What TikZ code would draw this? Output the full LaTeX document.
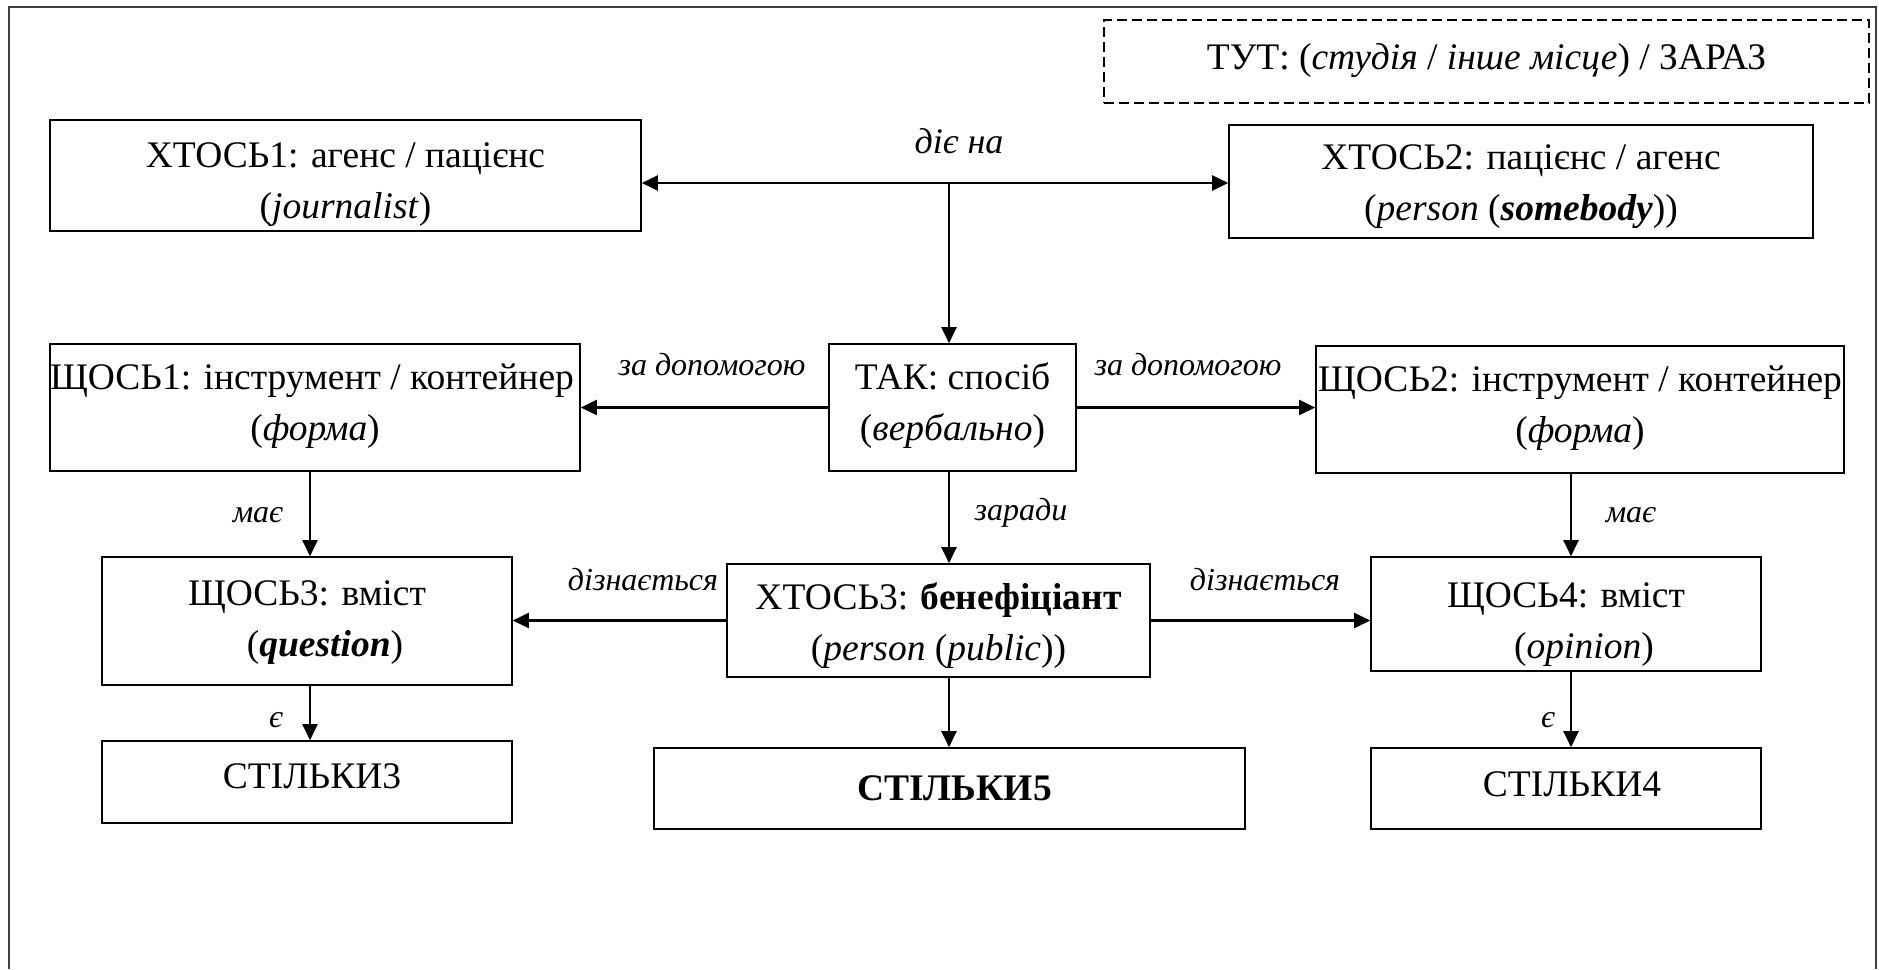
\documentclass[tikz,border=0pt]{standalone}
\usepackage{fontspec}
\setmainfont{Liberation Serif}
\usetikzlibrary{arrows.meta}
% box contents: lines stacked and centred, lowered by #1 inside the frame
\newcommand\boxlines[2]{\raisebox{#1}[\height][\depth]{\begin{tabular}{@{}c@{}}#2\end{tabular}}}
\begin{document}
\begin{tikzpicture}[x=1pt,y=-1pt,
  box/.style={draw, line width=1.6pt, inner sep=0pt, align=center,
              font=\fontsize{37.5}{51}\selectfont},
  dbox/.style={box, dash pattern=on 10pt off 5pt},
  arr/.style={line width=2.2pt, -{Triangle[length=16pt,width=15pt]}},
  lab/.style={font=\fontsize{32}{38}\selectfont\itshape, inner sep=0pt},
  frame/.style={line width=1.2pt, black!75}]
\useasboundingbox (0,0) rectangle (1879,969);
% page frame, open at the bottom
\draw[frame] (9,969) -- (9,7) -- (1876,7) -- (1876,969);

% place / time
\node[dbox, minimum width=765pt, minimum height=83pt] (here) at (1486.5,61.5)
  {\boxlines{2pt}{ТУТ: (\textit{студія} / \textit{інше місце}) / ЗАРАЗ}};

% participants
\node[box, minimum width=591pt, minimum height=111pt] (x1) at (345.5,175.5)
  {\boxlines{-7pt}{ХТОСЬ1: агенс / пацієнс\\(\textit{journalist})}};
\node[box, minimum width=584pt, minimum height=113pt] (x2) at (1521,181.5)
  {\boxlines{-3pt}{ХТОСЬ2: пацієнс / агенс\\(\textit{person} (\textbf{\textit{somebody}}))}};
\node[box, minimum width=530pt, minimum height=127pt] (s1) at (315,407.5)
  {\boxlines{3pt}{\hspace*{-6pt}ЩОСЬ1: інструмент / контейнер\\(\textit{форма})}};
\node[box, minimum width=247pt, minimum height=127pt] (tak) at (952.5,407.5)
  {\boxlines{3pt}{ТАК: спосіб\\(\textit{вербально})}};
\node[box, minimum width=528pt, minimum height=127pt] (s2) at (1580,409.5)
  {\boxlines{3pt}{ЩОСЬ2: інструмент / контейнер\\(\textit{форма})}};
\node[box, minimum width=410pt, minimum height=128pt] (s3) at (307,621)
  {\boxlines{0pt}{ЩОСЬ3: вміст\\\hspace*{36pt}(\textbf{\textit{question}})}};
\node[box, minimum width=423pt, minimum height=113pt] (x3) at (938.5,620.5)
  {\boxlines{-4pt}{ХТОСЬ3: \textbf{бенефіціант}\\(\textit{person} (\textit{public}))}};
\node[box, minimum width=390pt, minimum height=114pt] (s4) at (1566,614)
  {\boxlines{-9pt}{ЩОСЬ4: вміст\\\hspace*{36pt}(\textit{opinion})}};
\node[box, minimum width=410pt, minimum height=82pt] (k3) at (307,782)
  {\boxlines{4pt}{\hspace*{10pt}СТІЛЬКИ3}};
\node[box, minimum width=591pt, minimum height=81pt] (k5) at (949.5,788.5)
  {\boxlines{-2pt}{\hspace*{10pt}\textbf{СТІЛЬКИ5}}};
\node[box, minimum width=390pt, minimum height=81pt] (k4) at (1566,788.5)
  {\boxlines{2pt}{\hspace*{12pt}СТІЛЬКИ4}};

% connector columns
\coordinate (hub) at (949,183);
\coordinate (colL) at (310,0);
\coordinate (colR) at (1571,0);

\draw[arr] (hub) -- (x1.east |- hub);
\draw[arr] (hub) -- (x2.west |- hub);
\draw[arr] (hub) -- (tak.north -| hub);
\draw[arr] (tak.west) -- (s1.east |- tak.west);
\draw[arr] (tak.east) -- (s2.west |- tak.east);
\draw[arr] (s1.south -| colL) -- (s3.north -| colL);
\draw[arr] (s2.south -| colR) -- (s4.north -| colR);
\draw[arr] (tak.south -| hub) -- (x3.north -| hub);
\draw[arr] (x3.west) -- (s3.east |- x3.west);
\draw[arr] (x3.east) -- (s4.west |- x3.east);
\draw[arr] (s3.south -| colL) -- (k3.north -| colL);
\draw[arr] (x3.south -| hub) -- (k5.north -| hub);
\draw[arr] (s4.south -| colR) -- (k4.north -| colR);

% relation labels
\node[lab, font=\fontsize{36}{40}\selectfont\itshape] (l1) at (959,141) {діє на};
\node[lab] (l2) at (712,365) {за допомогою};
\node[lab] (l3) at (1188,365) {за допомогою};
\node[lab] (l4) at (258,515) {має};
\node[lab] (l5) at (1631,515) {має};
\node[lab] (l6) at (1021,513) {заради};
\node[lab] (l7) at (643,580) {дізнається};
\node[lab] (l8) at (1265,580) {дізнається};
\node[lab] (l9) at (276,720) {є};
\node[lab] (l10) at (1548,720) {є};
\end{tikzpicture}
\end{document}
